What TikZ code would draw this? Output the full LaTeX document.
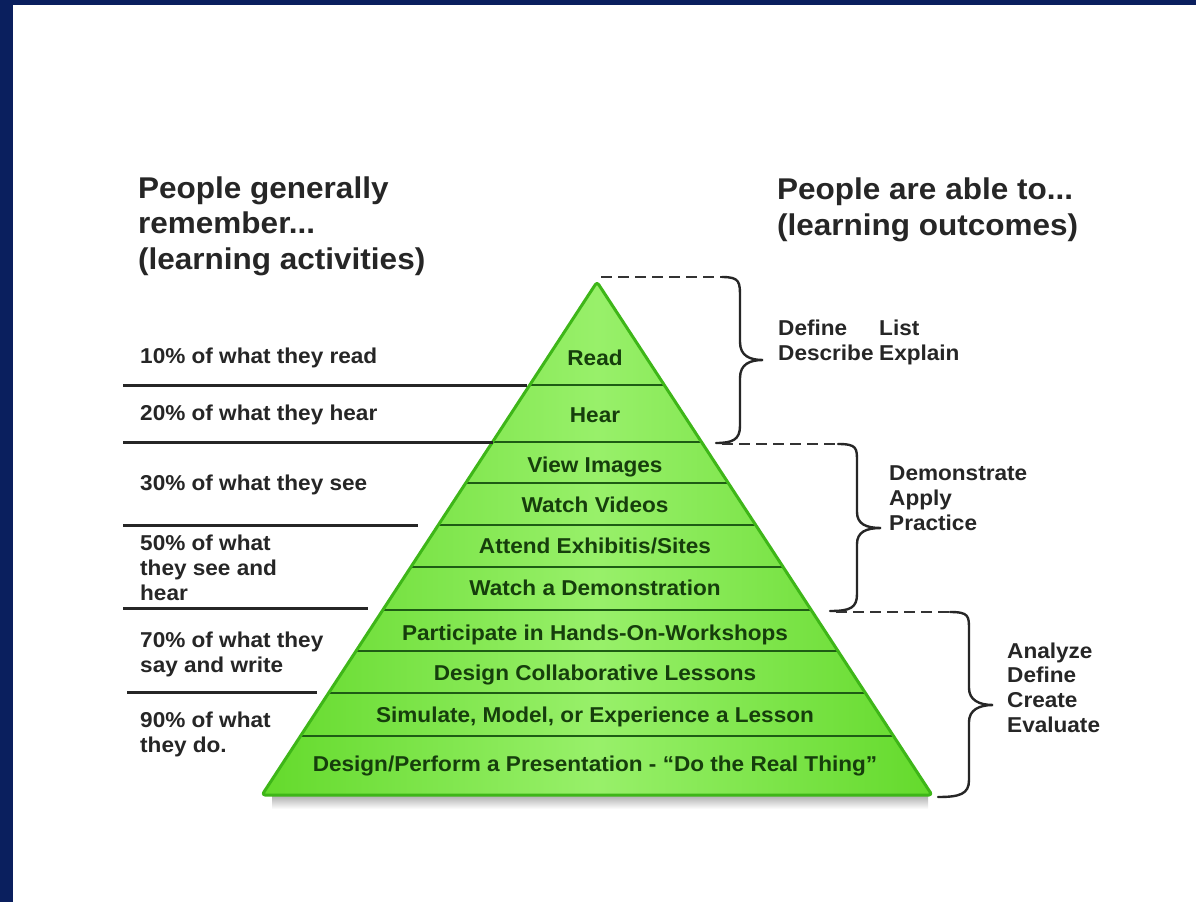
\documentclass[tikz,border=0pt]{standalone}
\usepackage{fontspec}
\setmainfont{Liberation Sans}[FakeStretch=1.05]
\usetikzlibrary{calc}
\definecolor{navy}{RGB}{10,31,94}
\definecolor{pgreen}{RGB}{100,218,44}
\definecolor{plight}{RGB}{152,240,106}
\definecolor{pedge}{RGB}{62,182,24}
\definecolor{bandline}{RGB}{30,92,20}
\definecolor{bandtext}{RGB}{22,62,12}
\definecolor{lefttext}{RGB}{38,38,38}
\begin{document}
\begin{tikzpicture}[x=1pt,y=-1pt,
  txt/.style={inner sep=0pt, font=\fontsize{21.5}{24.6}\selectfont\bfseries, align=left, anchor=base west, text=lefttext},
  head/.style={inner sep=0pt, font=\fontsize{30}{35.5}\selectfont\bfseries, align=left, anchor=base west, text=lefttext},
  band/.style={inner sep=0pt, font=\fontsize{21.5}{25}\selectfont\bfseries, text=bandtext, anchor=base},
  sep/.style={draw=bandline, line width=2.5pt},
  rule/.style={draw=black!85, line width=3pt},
  brace/.style={draw=black!85, line width=2.4pt, line cap=round},
  dashline/.style={draw=black!80, line width=2.4pt, dash pattern=on 11pt off 6pt},
]
% frame
\fill[navy] (0,0) rectangle (1196,902);
\fill[white] (13,5) rectangle (1196,902);
\useasboundingbox (0,0) rectangle (1196,902);

% headings (anchored on the baseline of their last line)
\node[head] (hl) at (138,269) {People generally\\remember...\\(learning activities)};
\node[head] (hr) at (777,235) {People are able to...\\(learning outcomes)};

% pyramid
\coordinate (apex) at (597,282);
\coordinate (bl) at (262,795);
\coordinate (br) at (932,795);
\shade[top color=black!35, bottom color=white] (272,794) rectangle (928,809);
\shade[left color=pgreen, right color=pgreen, middle color=plight, rounded corners=3pt]
  (bl) -- (apex) -- (br) -- cycle;
\foreach \yy in {385,442,483,525,567,610,651,693,736} {
  \pgfmathsetmacro\hw{0.653*(\yy-282)-1}
  \draw[sep] ({597-\hw},\yy) -- ({597+\hw},\yy);
}
\draw[pedge, line width=3pt, line join=round, rounded corners=3pt] (bl) -- (apex) -- (br) -- cycle;

% pyramid labels
\node[band] (b1) at (595,365) {Read};
\node[band] (b2) at (595,422) {Hear};
\node[band] (b3) at (595,472) {View Images};
\node[band] (b4) at (595,512) {Watch Videos};
\node[band] (b5) at (595,553) {Attend Exhibitis/Sites};
\node[band] (b6) at (595,595) {Watch a Demonstration};
\node[band] (b7) at (595,640) {Participate in Hands-On-Workshops};
\node[band] (b8) at (595,680) {Design Collaborative Lessons};
\node[band] (b9) at (595,722) {Simulate, Model, or Experience a Lesson};
\node[band] (b10) at (595,771) {Design/Perform a Presentation - ``Do the Real Thing''};

% left column: rules and percentages
\draw[rule] (123,385) -- (527,385);
\draw[rule] (123,442) -- (493,442);
\draw[rule] (123,525) -- (418,525);
\draw[rule] (123,608) -- (368,608);
\draw[rule] (127,692) -- (317,692);

\node[txt] (p10) at (140,363) {10\% of what they read};
\node[txt] (p20) at (140,420) {20\% of what they hear};
\node[txt] (p30) at (140,490) {30\% of what they see};
\node[txt] (p50) at (140,600) {50\% of what\\they see and\\hear};
\node[txt] (p70) at (140,672) {70\% of what they\\say and write};
\node[txt] (p90) at (140,752) {90\% of what\\they do.};

% right column: braces and outcomes
\coordinate (d1s) at (601,277);
\coordinate (d1e) at (722,277);
\coordinate (k1) at (763,360);
\coordinate (e1) at (716,443);
\draw[dashline] (d1s) -- (d1e);
\draw[brace] (d1e) .. controls (740,277) and (740,282) .. (740,298) -- (740,342)
  .. controls (740,356) and (750,360) .. (k1)
  .. controls (750,360) and (740,364) .. (740,378) -- (740,426)
  .. controls (740,440) and (732,443) .. (e1);

\coordinate (d2s) at (722,444);
\coordinate (d2e) at (838,444);
\coordinate (k2) at (881,528);
\coordinate (e2) at (830,611);
\draw[dashline] (d2s) -- (d2e);
\draw[brace] (d2e) .. controls (857,444) and (857,448) .. (857,462) -- (857,512)
  .. controls (857,524) and (866,528) .. (k2)
  .. controls (866,528) and (857,532) .. (857,544) -- (857,594)
  .. controls (857,608) and (850,611) .. (e2);

\coordinate (d3s) at (836,612);
\coordinate (d3e) at (950,612);
\coordinate (k3) at (993,705);
\coordinate (e3) at (938,797);
\draw[dashline] (d3s) -- (d3e);
\draw[brace] (d3e) .. controls (969,612) and (969,616) .. (969,630) -- (969,688)
  .. controls (969,700) and (979,705) .. (k3)
  .. controls (979,705) and (969,710) .. (969,722) -- (969,780)
  .. controls (969,794) and (960,797) .. (e3);

\node[txt] (o1a) at (778,360) {Define\\Describe};
\node[txt] (o1b) at (879,360) {List\\Explain};
\node[txt] (o2) at (889,530) {Demonstrate\\Apply\\Practice};
\node[txt] (o3) at (1007,732) {Analyze\\Define\\Create\\Evaluate};
\end{tikzpicture}
\end{document}
